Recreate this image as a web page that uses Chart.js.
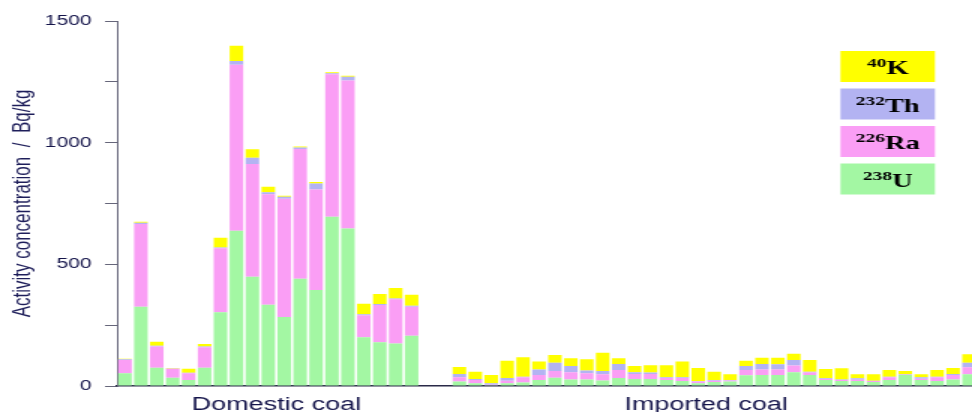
<!DOCTYPE html>
<html>
<head>
<meta charset="utf-8">
<script src="https://cdn.jsdelivr.net/npm/chart.js@4.4.1/dist/chart.umd.min.js"></script>
<style>
  html, body { margin: 0; padding: 0; background: #fff; overflow: hidden; }
  /* the original figure is stretched sideways, so draw narrow and widen it */
  #stretch { width: 654px; height: 412px; transform: scaleX(1.5); transform-origin: 0 0; }
</style>
</head>
<body>
<div id="stretch"><canvas id="activityChart"></canvas></div>
<script>
// Domestic coal samples (Bq/kg)
const domesticU  = [52, 326, 75, 34, 25, 75, 303, 638, 449, 334, 284, 441, 395, 696, 647, 200, 180, 175, 207];
const domesticRa = [55, 340, 87, 37, 27, 84, 263, 682, 463, 454, 486, 533, 413, 585, 608, 91, 153, 181, 119];
const domesticTh = [3, 5, 3, 1, 2, 3, 3, 16, 26, 8, 8, 6, 24, 4, 16, 4, 4, 4, 4];
const domesticK  = [2, 4, 17, 2, 17, 11, 40, 62, 35, 23, 4, 4, 6, 4, 4, 43, 41, 43, 45];

// Imported coal samples (Bq/kg)
const importedU  = [18, 11, 3, 11, 14, 25, 34, 27, 27, 23, 33, 29, 29, 25, 21, 11, 16, 19, 44, 45, 45, 56, 45, 25, 21, 21, 16, 25, 45, 25, 21, 27, 48];
const importedRa = [18, 14, 2, 11, 22, 20, 28, 29, 25, 25, 33, 20, 20, 8, 12, 7, 6, 4, 22, 23, 23, 28, 10, 4, 4, 5, 5, 11, 1, 5, 15, 18, 29];
const importedTh = [13, 4, 6, 11, 2, 23, 34, 26, 12, 14, 24, 7, 6, 3, 3, 3, 3, 2, 16, 22, 21, 23, 4, 3, 2, 6, 1, 2, 2, 6, 2, 4, 19];
const importedK  = [29, 30, 34, 71, 80, 33, 31, 32, 46, 75, 24, 26, 30, 49, 65, 53, 34, 23, 22, 26, 27, 26, 48, 38, 46, 16, 26, 28, 14, 12, 28, 25, 34];

// Nuclides, bottom of the stack first
const nuclideMass   = ['238', '226', '232', '40'];
const nuclideSymbol = ['U', 'Ra', 'Th', 'K'];
const nuclideColors = ['#a3f7a3', '#fa9ef5', '#b3b3f2', '#ffff00'];

const groupNames = ['Domestic coal', 'Imported coal'];
const gap = [null, null]; // empty slots between the two groups

// x labels: only the group names are shown
const xLabels = [...domesticU, ...gap, ...importedU].map(() => '');
xLabels[9] = groupNames[0];
xLabels[36] = groupNames[1];

const seriesData = [
    [...domesticU, ...gap, ...importedU],
    [...domesticRa, ...gap, ...importedRa],
    [...domesticTh, ...gap, ...importedTh],
    [...domesticK, ...gap, ...importedK]
];

const inkColor = '#14144a';
const serif = '"Liberation Serif", "Times New Roman", serif';
Chart.defaults.font.family = '"Liberation Sans", Arial, sans-serif';

// Legend drawn as coloured boxes with the nuclide written inside
const boxLegend = {
    id: 'boxLegend',
    afterDraw(chart) {
        const ctx = chart.ctx;
        const area = chart.chartArea;
        const sets = chart.data.datasets.slice().reverse();
        ctx.save();
        sets.forEach((ds, i) => {
            const w = 63, h = 31;
            const x = area.right - 91;
            const y = 51 + i * 37.5;
            ctx.fillStyle = ds.backgroundColor;
            ctx.fillRect(x, y, w, h);

            ctx.font = 'bold 13px ' + serif;
            const mw = ctx.measureText(ds.mass).width;
            ctx.font = 'bold 19px ' + serif;
            const sw = ctx.measureText(ds.symbol).width;
            const tx = x + (w - mw - sw) / 2;

            ctx.fillStyle = '#000';
            ctx.textBaseline = 'alphabetic';
            ctx.textAlign = 'left';
            ctx.fillText(ds.symbol, tx + mw, y + 23);
            ctx.font = 'bold 13px ' + serif;
            ctx.fillText(ds.mass, tx, y + 16);
        });
        ctx.restore();
    }
};

const ctx = document.getElementById('activityChart').getContext('2d');
const activityChart = new Chart(ctx, {
    type: 'bar',
    data: {
        labels: xLabels,
        datasets: seriesData.map((values, i) => ({
            label: nuclideMass[i] + nuclideSymbol[i],
            mass: nuclideMass[i],
            symbol: nuclideSymbol[i],
            data: values,
            backgroundColor: nuclideColors[i],
            borderWidth: 0,
            barPercentage: 0.85,
            categoryPercentage: 1.0
        }))
    },
    options: {
        responsive: true,
        maintainAspectRatio: false,
        animation: false,
        layout: {
            padding: { top: 21, right: 0, bottom: 0, left: 0 }
        },
        plugins: {
            legend: { display: false },
            tooltip: { enabled: false }
        },
        scales: {
            x: {
                stacked: true,
                grid: { display: false, drawTicks: false },
                border: { display: true, color: '#2a2a48', width: 1.5 },
                ticks: {
                    autoSkip: false,
                    maxRotation: 0,
                    padding: 8,
                    labelOffset: 5.3,
                    color: inkColor,
                    font: { size: 18 }
                },
                afterFit(scale) { scale.height = 26; }
            },
            y: {
                stacked: true,
                min: 0,
                max: 1500,
                grid: { drawOnChartArea: false, tickLength: 8, color: '#66667a' },
                border: { color: '#66667a', width: 1 },
                ticks: {
                    stepSize: 250,
                    padding: 9,
                    color: inkColor,
                    font: { size: 14 },
                    callback: v => (v % 500 === 0 ? v : '')
                },
                title: {
                    display: true,
                    text: 'Activity concentration  /  Bq/kg',
                    color: '#1e1e5a',
                    font: { size: 17 },
                    padding: { top: 5, bottom: 0 }
                },
                afterFit(scale) { scale.width = 78; }
            }
        }
    },
    plugins: [boxLegend]
});
</script>
</body>
</html>
